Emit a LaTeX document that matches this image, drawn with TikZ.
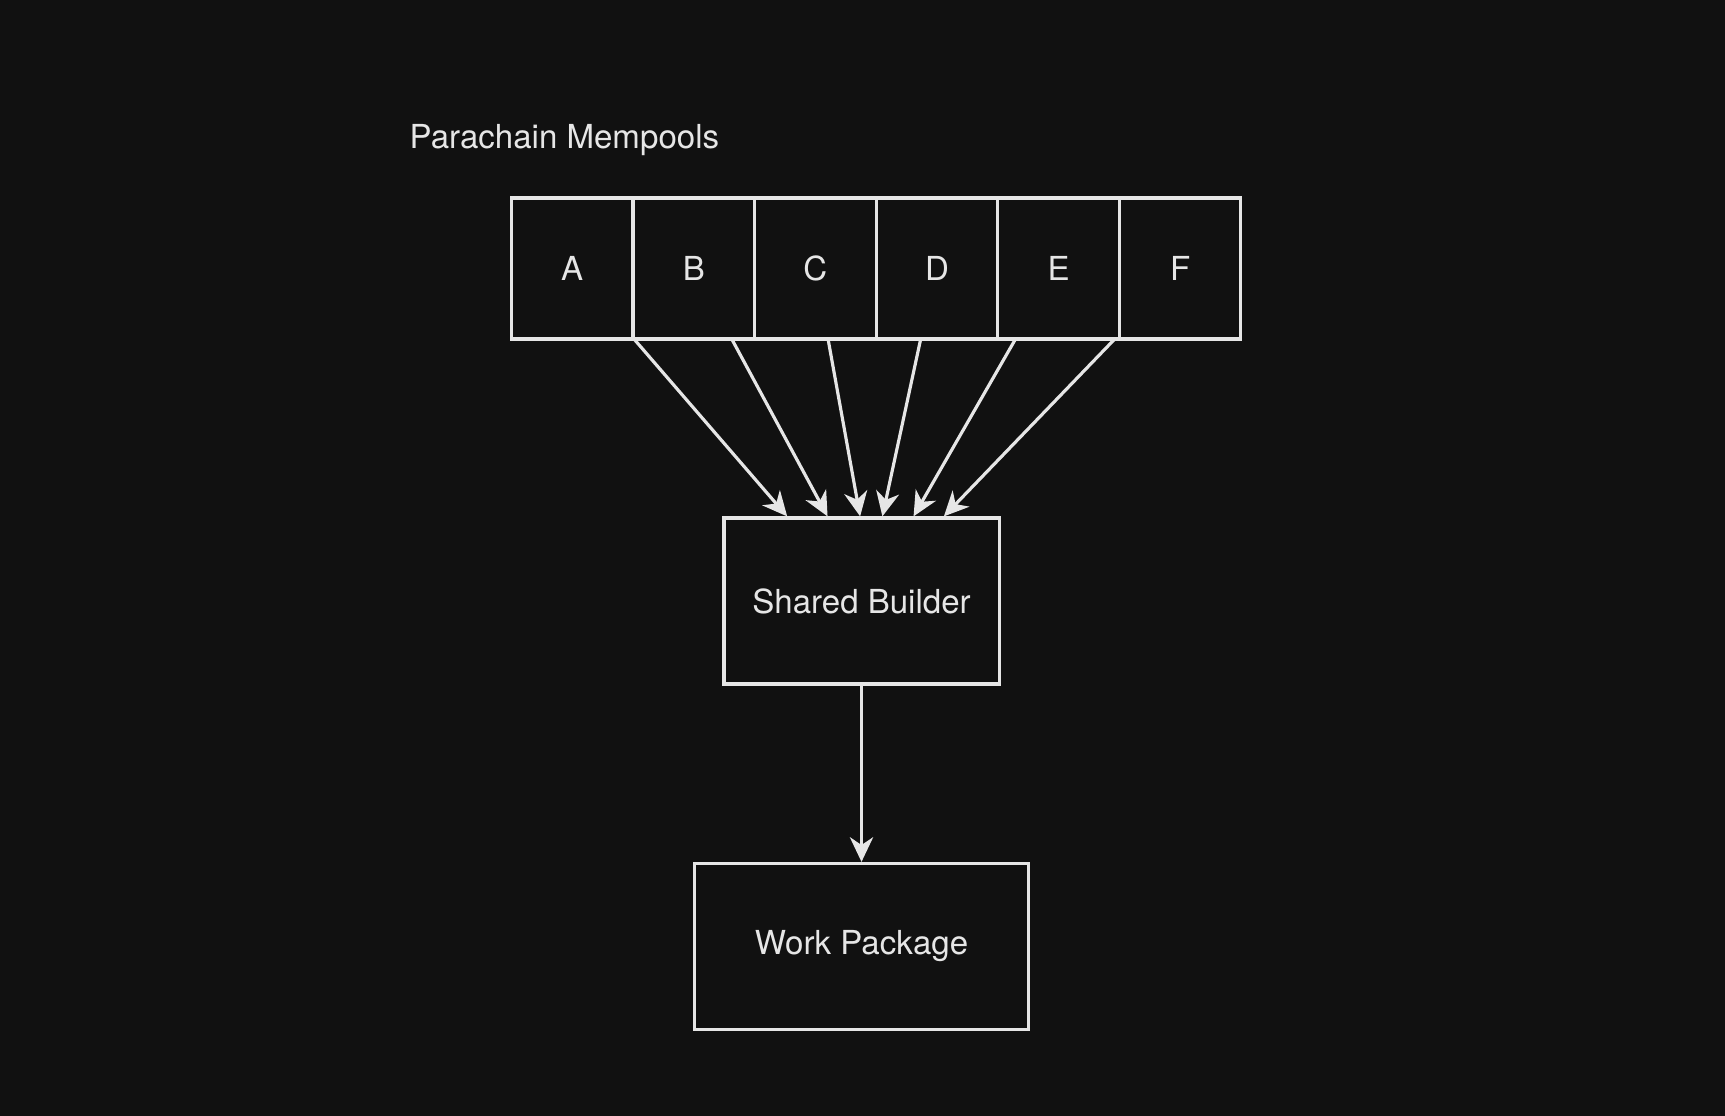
\documentclass[tikz,border=0pt]{standalone}
\usepackage{fontspec}
\setmainfont{TeX Gyre Heros}
\usetikzlibrary{positioning, arrows.meta, calc}
\definecolor{bg}{HTML}{111111}
\definecolor{fg}{HTML}{E6E6E6}
\tikzset{
cell/.style={draw=fg, line width=0.9pt, minimum width=1.215cm, minimum height=1.41cm, outer sep=0pt, inner sep=0pt, text=fg},
block/.style={draw=fg, line width=0.9pt, minimum height=1.66cm, text=fg},
feed/.style={draw=fg, line width=0.9pt, -{Stealth[length=7pt,width=6.6pt,inset=2.2pt]}}
}
\begin{document}
\begin{tikzpicture}[x=0.01cm, y=-0.01cm, font=\fontsize{9.4}{11}\selectfont]
\fill[bg] (0,0) rectangle (1725,1116);
\node[text=fg, anchor=west, inner sep=0pt] (title) at (409,140) {Parachain Mempools};
\node[cell] (A) at (572.25,268.5) {A};
\foreach \prev/\name in {A/B, B/C, C/D, D/E, E/F}
\node[cell, right=0pt of \prev] (\name) {\name};
\node[block, minimum width=2.75cm] (sb) at (861.5,601) {Shared Builder};
\node[block, minimum width=3.33cm] (wp) at (861.5,946.5) {\raisebox{-2pt}{Work Package}};
% mempools into the builder
\foreach \f/\g in {0.168/0.233, 0.302/0.378, 0.434/0.495, 0.561/0.575, 0.691/0.687, 0.827/0.796}
\draw[feed] ($(A.south west)!\f!(F.south east)$) -- ($(sb.north west)!\g!(sb.north east)$);
\draw[feed] (sb) -- (wp); % builder output
\end{tikzpicture}
\end{document}
